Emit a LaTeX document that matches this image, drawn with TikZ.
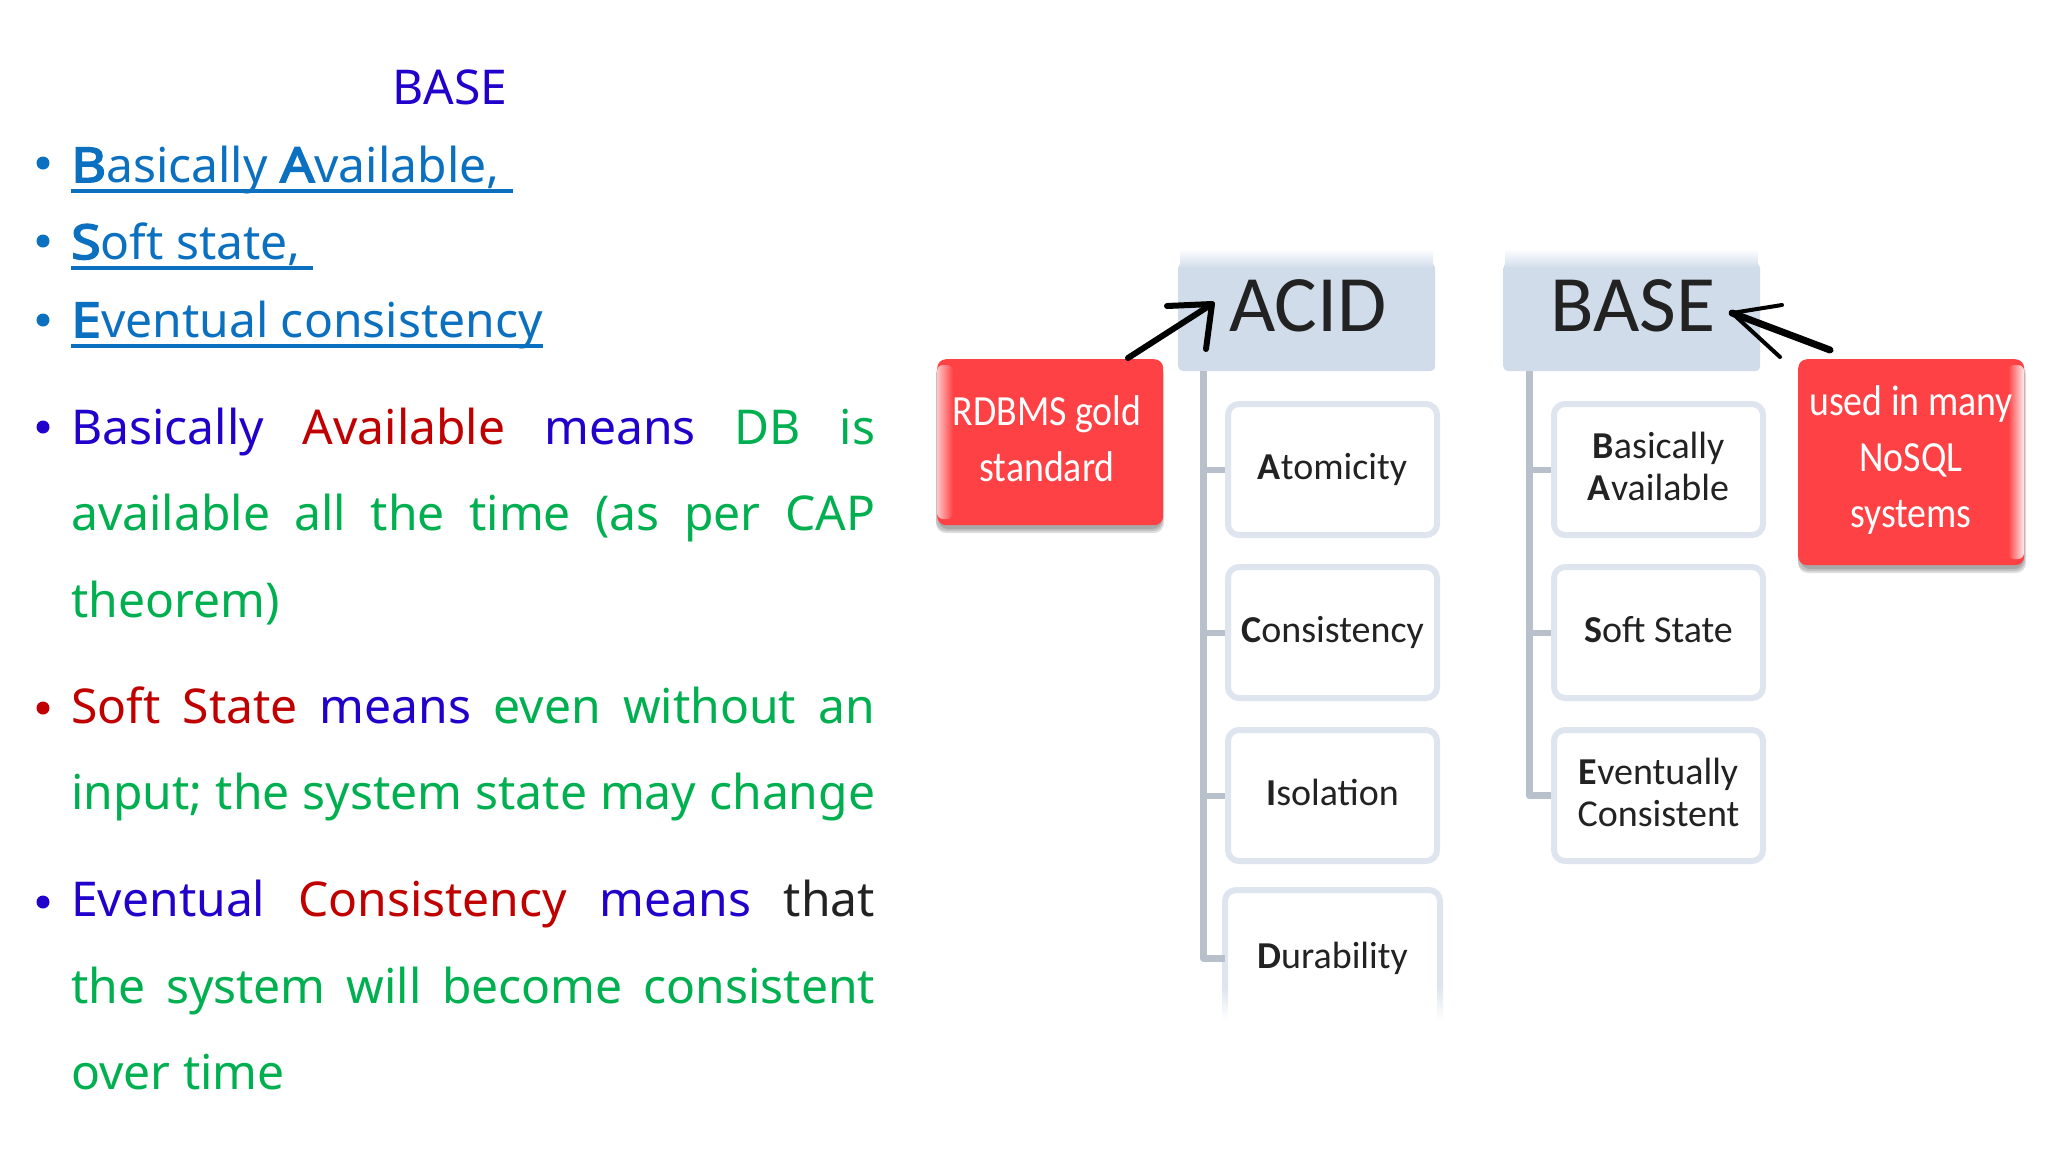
\documentclass[tikz,border=0pt]{standalone}
\usepackage{fontspec}
\setmainfont{Noto Sans}
\newfontfamily\bfn[FakeBold=3.5,FakeStretch=1.12]{Noto Sans}
\newfontfamily\diag{Carlito}
\newfontfamily\hand[FakeStretch=0.88]{Carlito}
\usetikzlibrary{calc}
\definecolor{cBlue}{HTML}{2200CC}
\definecolor{cLink}{HTML}{0B70BF}
\definecolor{cRed}{HTML}{C00000}
\definecolor{cGreen}{HTML}{00B050}
\definecolor{cBlack}{HTML}{222222}
\definecolor{hdr}{HTML}{D1DCEB}
\definecolor{bord}{HTML}{DFE5EF}
\definecolor{trunkc}{HTML}{B8C0CC}
\definecolor{alert}{HTML}{FD4144}
\newcommand{\jline}[1]{\makebox[804pt][s]{#1}}
\newcommand{\bl}[1]{{\bfn #1}}
\tikzset{
  x=1pt,y=-1pt,
  txt/.style={anchor=base west,inner sep=0pt,font=\fontsize{48}{48}\selectfont},
  lnk/.style={txt,text=cLink},
  bul/.style={circle,inner sep=0pt,minimum size=13pt,fill=#1},
  ul/.style={draw=cLink,line width=3.5pt},
  head/.style={fill=hdr,rounded corners=5pt,inner sep=0pt,minimum width=257pt,minimum height=108pt},
  headtxt/.style={font=\diag\fontsize{80}{80}\selectfont,text=cBlack,inner sep=0pt},
  child/.style={draw=bord,line width=6pt,fill=white,rounded corners=11pt,minimum width=209pt,minimum height=131pt,inner sep=0pt,align=center,font=\diag\fontsize{38}{42}\selectfont,text=cBlack},
  trunk/.style={draw=trunkc,line width=7pt,line join=round},
  twig/.style={draw=trunkc,line width=6pt},
  alertbox/.style={fill=alert,rounded corners=9pt,inner sep=0pt},
  alerttxt/.style={text=white,align=center,font=\hand\fontsize{43}{56}\selectfont,inner sep=0pt},
  softshadow/.style={fill=black,opacity=0.13,rounded corners=10pt},
  pen/.style={draw=black,line width=#1,line cap=round,line join=round},
}
\begin{document}
\begin{tikzpicture}
\useasboundingbox (0,0) rectangle (2048,1152);
\fill[white] (0,0) rectangle (2048,1152);

% left column
\node[txt,text=cBlue] (title) at (392,104) {BASE};
\node[bul=cLink] (b1) at (43,163) {};
\node[lnk] (l1) at (71,182) {\bl{B}asically \bl{A}vailable,\hspace*{13pt}};
\draw[ul] ($(l1.base west)+(0,9)$) -- ($(l1.base east)+(0,9)$);
\node[bul=cLink] (b2) at (43,241) {};
\node[lnk] (l2) at (71,259) {\bl{S}oft state,\hspace*{12pt}};
\draw[ul] ($(l2.base west)+(0,9)$) -- ($(l2.base east)+(0,9)$);
\node[bul=cLink] (b3) at (43,320) {};
\node[lnk] (l3) at (71,337) {\bl{E}ventual consistency};
\draw[ul] ($(l3.base west)+(0,9)$) -- ($(l3.base east)+(0,9)$);

\node[bul=cBlue] (b4) at (43,427) {};
\node[txt,text=cGreen] (p1) at (71,444) {\jline{\textcolor{cBlue}{Basically} \textcolor{cRed}{Available} \textcolor{cBlue}{means} DB is}};
\node[txt,text=cGreen] (p2) at (71,530) {\jline{available all the time (as per CAP}};
\node[txt,text=cGreen] (p3) at (71,617) {theorem)};

\node[bul=cRed] (b5) at (43,708) {};
\node[txt,text=cGreen] (p4) at (71,723) {\jline{\textcolor{cRed}{Soft State} \textcolor{cBlue}{means} even without an}};
\node[txt,text=cGreen] (p5) at (71,809) {\jline{input; the system state may change}};

\node[bul=cBlue] (b6) at (43,902) {};
\node[txt,text=cGreen] (p6) at (71,916) {\jline{\textcolor{cBlue}{Eventual} \textcolor{cRed}{Consistency} \textcolor{cBlue}{means} \textcolor{cBlack}{that}}};
\node[txt,text=cGreen] (p7) at (71,1003) {\jline{the system will become consistent}};
\node[txt,text=cGreen] (p8) at (71,1089) {over time};

% headers
\node[head,anchor=north west] (acid) at (1178,263) {};
\node[head,anchor=north west] (basehd) at (1503,263) {};
\shade[top color=white,bottom color=hdr] (1180,249) rectangle (1433,268);
\shade[top color=white,bottom color=hdr] (1505,249) rectangle (1758,268);
\node[headtxt] (acidt) at (1308,306) {ACID};
\node[headtxt] (baset) at (1633,306) {BASE};

% children
\node[child,anchor=north west] (atom) at (1225,401) {\textbf{A}tomicity};
\node[child,anchor=north west] (cons) at (1225,564) {\textbf{C}onsistency};
\node[child,anchor=north west] (isol) at (1225,727) {\textbf{I}solation\vphantom{y}};
\node[child,anchor=north west,draw=none,fill=none] (dura) at (1225,890) {\textbf{D}urability};
\coordinate (durTL) at (dura.north west);
\coordinate (durTR) at (dura.north east);
\coordinate (durL) at ($(dura.north west)+(0,98)$);
\coordinate (durR) at ($(dura.north east)+(0,98)$);
\coordinate (durLb) at ($(dura.north west)+(-3,130)$);
\coordinate (durRb) at ($(dura.north east)+(3,130)$);
\draw[draw=bord,line width=6pt,rounded corners=11pt] (durL) -- (durTL) -- (durTR) -- (durR);
\shade[top color=bord,bottom color=white] ($(durL)+(-3,0)$) rectangle ($(durLb)+(6,0)$);
\shade[top color=bord,bottom color=white] ($(durR)+(-3,0)$) rectangle ($(durRb)$);

\node[child,anchor=north west] (ba) at (1551,401) {\textbf{B}asically\\\textbf{A}vailable\vphantom{y}};
\node[child,anchor=north west] (ss) at (1551,564) {\textbf{S}oft State\vphantom{y}};
\node[child,anchor=north west] (ec) at (1551,727) {\textbf{E}ventually\\Consistent\vphantom{y}};

% tree lines
\coordinate (t1) at ($(acid.south west)+(25,0)$);
\coordinate (t2) at ($(basehd.south west)+(26,0)$);
\draw[trunk] (t1) |- (dura.west);
\draw[twig] (t1 |- atom.west) -- (atom.west);
\draw[twig] (t1 |- cons.west) -- (cons.west);
\draw[twig] (t1 |- isol.west) -- (isol.west);
\draw[trunk] (t2) |- (ec.west);
\draw[twig] (t2 |- ba.west) -- (ba.west);
\draw[twig] (t2 |- ss.west) -- (ss.west);

% alert boxes
\fill[softshadow] (936,364) rectangle (1164,533);
\fill[softshadow] (936,364) rectangle (1163,531);
\fill[softshadow] (938,364) rectangle (1162,529);
\node[alertbox,anchor=north west,minimum width=226pt,minimum height=166pt] (rdb) at (937,359) {};
\shade[left color=alert!30,right color=alert,rounded corners=6pt] (937,365) rectangle (953,519);
\node[alerttxt] (rdbt) at (1047,439) {RDBMS gold\\standard};

\fill[softshadow] (1798,364) rectangle (2026,573);
\fill[softshadow] (1798,364) rectangle (2025,571);
\fill[softshadow] (1800,364) rectangle (2024,569);
\node[alertbox,anchor=north west,minimum width=226pt,minimum height=206pt] (nos) at (1798,359) {};
\shade[left color=alert,right color=alert!10,rounded corners=6pt] (2008,365) rectangle (2024,559);
\node[alerttxt] (nost) at (1911,460) {used in many\\NoSQL\\systems};

% hand-drawn arrows
\coordinate (a1s) at (1128,358);
\coordinate (a1t) at (1212,304);
\coordinate (a1u) at (1167,306);
\coordinate (a1v) at (1206,349);
\draw[pen=6pt] (a1s) -- (a1t);
\draw[pen=6pt] (a1u) -- (a1t) -- (a1v);
\coordinate (a2s) at (1830,350);
\coordinate (a2t) at (1732,313);
\coordinate (a2u) at (1782,305);
\coordinate (a2v) at (1780,357);
\draw[pen=7pt] (a2s) -- (a2t);
\draw[pen=4pt] (a2u) -- (a2t) -- (a2v);
\end{tikzpicture}
\end{document}
